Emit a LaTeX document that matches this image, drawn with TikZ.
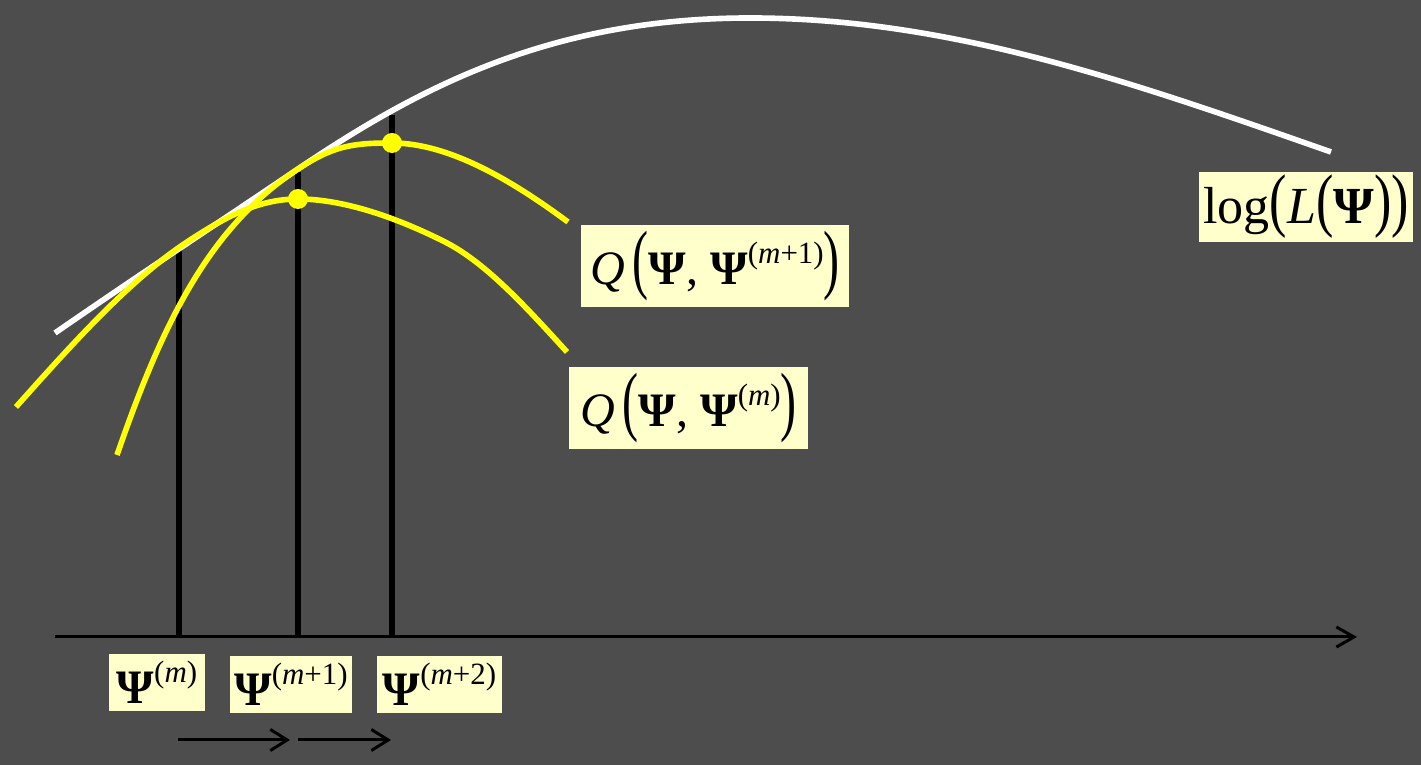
\documentclass[tikz,border=0pt]{standalone}
\usepackage{fontspec}
\setmainfont{Liberation Serif}
\usepackage{graphicx}
\usetikzlibrary{arrows.meta}
\definecolor{bg}{RGB}{77,77,77}
\definecolor{boxy}{RGB}{255,255,204}
\definecolor{yel}{RGB}{255,255,0}
\newcommand{\bpsi}{\textbf{Ψ}}
\newcommand{\qlp}{\scalebox{1}[1.6]{(}}
\newcommand{\qrp}{\scalebox{1}[1.6]{)}}
\newcommand{\llp}{\scalebox{1}[1.35]{(}}
\newcommand{\lrp}{\scalebox{1}[1.35]{)}}
\newcommand{\supx}[1]{\raisebox{5.9pt}{\fontsize{8.8}{10}\selectfont(#1)}}
\tikzset{
  lab/.style={fill=boxy, text=black, inner sep=0pt, align=center, font=\fontsize{13.66}{15}\selectfont},
  curvew/.style={white, line width=1.6pt},
  curvey/.style={yel, line width=1.6pt},
  vline/.style={black, line width=1.55pt},
  axisline/.style={black, line width=0.85pt, -{Straight Barb[length=5pt,width=5.7pt]}},
  steparrow/.style={black, line width=0.85pt, -{Straight Barb[length=4.8pt,width=6pt]}},
  dot/.style={circle, fill=yel, inner sep=0pt, minimum size=0.2cm},
}
\begin{document}
\begin{tikzpicture}[x=0.01cm, y=-0.01cm]
\fill[bg] (0,0) rectangle (1421,765);
\useasboundingbox (0,0) rectangle (1421,765);

% axis and verticals
\coordinate (ax0) at (55,637);
\coordinate (ax1) at (1357,637);
\coordinate (t1) at (179,247);
\coordinate (b1) at (179,637);
\coordinate (t2) at (298,172);
\coordinate (b2) at (298,637);
\coordinate (t3) at (392,115);
\coordinate (b3) at (392,637);
\draw[vline] (t1) -- (b1);
\draw[vline] (t2) -- (b2);
\draw[vline] (t3) -- (b3);
\draw[axisline] (ax0) -- (ax1);

% log-likelihood curve
\draw[curvew] (55,333) .. controls (136,277) and (217,223.7) .. (298,169)
  .. controls (418,88) and (550,18) .. (750,18)
  .. controls (950,18) and (1131,82) .. (1331,152);

% Q(Psi, Psi^(m))
\draw[curvey] (16,407) .. controls (73,343) and (130,279.6) .. (187,242)
  .. controls (224,217.6) and (258,199) .. (298,199)
  .. controls (345,199) and (400,219) .. (447,243)
  .. controls (487,264) and (527,308) .. (567,352);

% Q(Psi, Psi^(m+1))
\draw[curvey] (117,455) .. controls (162,325) and (208,228) .. (298,169)
  .. controls (333,146) and (352,143) .. (392,143)
  .. controls (452,143) and (518,185) .. (568,222);

\node[dot] (d1) at (298,199) {};
\node[dot] (d2) at (392,143) {};

% labels
\node[lab, minimum width=2.14cm, minimum height=0.70cm, font=\fontsize{14.8}{16}\selectfont] (logL) at (1306,207)
  {log\llp\textit{L}\llp\bpsi\lrp\lrp};
\node[lab, minimum width=2.68cm, minimum height=0.82cm] (qm1) at (715,266)
  {\textit{Q}\,\qlp\bpsi, \bpsi\supx{\textit{m}+1}\qrp};
\node[lab, minimum width=2.39cm, minimum height=0.82cm] (qm) at (688.5,408)
  {\textit{Q}\,\qlp\bpsi, \bpsi\supx{\textit{m}}\qrp};
\node[lab, minimum width=0.96cm, minimum height=0.57cm] (pm) at (157,682.5)
  {\bpsi\supx{\textit{m}}};
\node[lab, minimum width=1.22cm, minimum height=0.57cm] (pm1) at (291,684.5)
  {\bpsi\supx{\textit{m}+1}};
\node[lab, minimum width=1.25cm, minimum height=0.57cm] (pm2) at (439.5,684.5)
  {\bpsi\supx{\textit{m}+2}};

% step arrows
\coordinate (s0) at (178,740);
\coordinate (s1) at (290,740);
\coordinate (s2) at (298,740);
\coordinate (s3) at (391,740);
\draw[steparrow] (s0) -- (s1);
\draw[steparrow] (s2) -- (s3);
\end{tikzpicture}
\end{document}
